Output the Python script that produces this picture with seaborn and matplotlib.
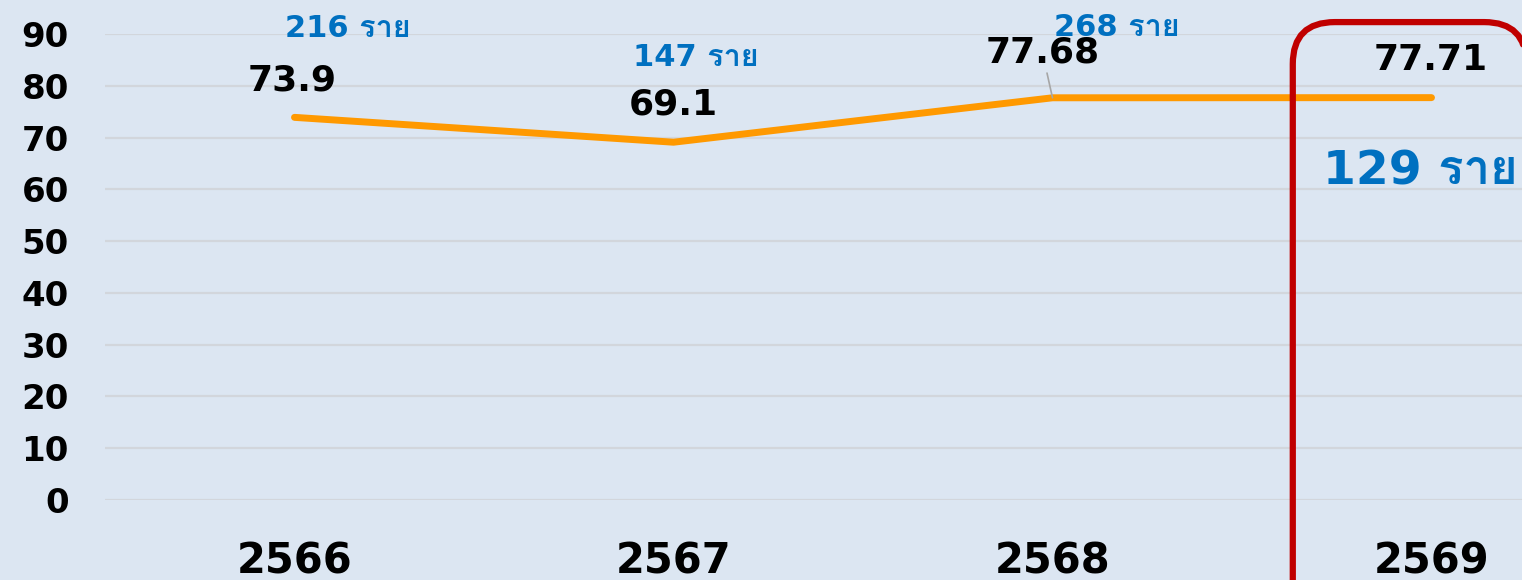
"""Line chart of yearly score with case counts, one year highlighted."""
import matplotlib
matplotlib.use("Agg")
import matplotlib.pyplot as plt
from matplotlib.font_manager import fontManager
from matplotlib.ft2font import FT2Font
from matplotlib.lines import Line2D
from matplotlib.patches import FancyBboxPatch
from matplotlib.transforms import IdentityTransform
import pandas as pd
import seaborn as sns

# data
years = ["2566", "2567", "2568", "2569"]
scores = [73.9, 69.1, 77.68, 77.71]
score_labels = ["73.9", "69.1", "77.68", "77.71"]
cases = [216, 147, 268, 129]
highlight_year = "2569"
y_ticks = [0, 10, 20, 30, 40, 50, 60, 70, 80, 90]

# label offsets in pixels (layout only)
score_offsets = [(-2, 37), (0, 38), (-10, 45), (-1, 38)]
case_offsets = [(53, 89), (22, 85), (64, 70), (-11, -74)]

BG = "#dce6f2"
ORANGE = "#ff9900"
BLUE = "#0070c0"
RED = "#c00000"


def find_thai_font():
    """Return the names of installed fonts that have Thai glyphs."""
    names = []
    for f in fontManager.ttflist:
        try:
            cmap = FT2Font(f.fname).get_charmap()
        except Exception:
            continue
        if ord("ร") in cmap and f.name not in names:
            names.append(f.name)
    return names


sns.set_theme(style="whitegrid")
thai = find_thai_font()
families = ["DejaVu Sans"] + thai
plt.rcParams["font.family"] = families

df = pd.DataFrame({"year": years, "score": scores})

fig = plt.figure(figsize=(15.22, 5.8), dpi=100, facecolor=BG)
ax = fig.add_axes([105 / 1522, 80 / 580, 1516 / 1522, 466 / 580])
ax.set_facecolor(BG)

sns.lineplot(data=df, x="year", y="score", ax=ax, color=ORANGE,
             linewidth=5, sort=False, solid_capstyle="round", clip_on=False)

ax.set_xlim(-0.5, 3.5)
ax.set_ylim(0, 90)
ax.set_yticks(y_ticks)
ax.grid(axis="y", color="#d2d6dc", linewidth=1.6)
ax.grid(axis="x", visible=False)
for s in ax.spines.values():
    s.set_visible(False)
ax.set_xlabel("")
ax.set_ylabel("")
ax.tick_params(axis="y", length=0, pad=26, labelsize=24.5)
ax.tick_params(axis="x", length=0, pad=29, labelsize=30)
for lab in ax.get_yticklabels() + ax.get_xticklabels():
    lab.set_fontweight("bold")
    lab.set_color("black")

for i, (v, txt) in enumerate(zip(scores, score_labels)):
    dx, dy = score_offsets[i]
    arrow = None
    if years[i] == "2568":
        # leader line from the label down to its point
        arrow = dict(arrowstyle="-", color="#a6a6a6", lw=1.2,
                     shrinkA=0, shrinkB=0)
    ax.annotate(txt, xy=(i, v), xytext=(dx, dy), textcoords="offset pixels",
                ha="center", va="center", fontsize=26, fontweight="bold",
                color="black", arrowprops=arrow, annotation_clip=False)

for i, (v, n) in enumerate(zip(scores, cases)):
    dx, dy = case_offsets[i]
    size = 34 if years[i] == highlight_year else 22
    ax.annotate(f"{n} ราย", xy=(i, v), xytext=(dx, dy),
                textcoords="offset pixels", ha="center", va="center",
                fontsize=size, fontweight="bold", color=BLUE,
                annotation_clip=False)

# rounded frame around the highlighted year, running off the right edge.
# flattened to a polyline, curves crossing the canvas edge draw badly
hi = years.index(highlight_year)
x0, _ = ax.transData.transform((hi - 0.366, 0))
x1, top = ax.transData.transform((hi + 0.25, 92.3))
box = FancyBboxPatch((x0, -60), x1 - x0, top + 60,
                     boxstyle="round,pad=0,rounding_size=42")
poly = box.get_path().to_polygons(closed_only=False)[0]
frame = Line2D(poly[:, 0], poly[:, 1], transform=IdentityTransform(),
               color=RED, linewidth=4.5, solid_joinstyle="round")
fig.lines.append(frame)

fig.savefig("out.png", dpi=100, facecolor=BG)
